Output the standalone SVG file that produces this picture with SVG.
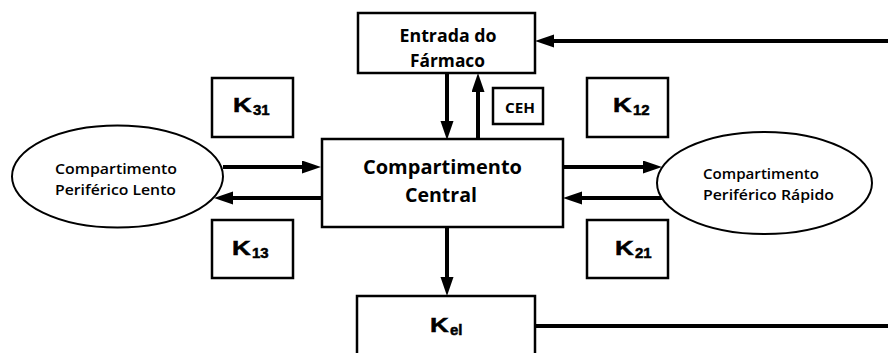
<svg xmlns="http://www.w3.org/2000/svg" width="888" height="353" viewBox="0 0 888 353">
<defs>
<style>
.box{fill:#fff;stroke:#000;stroke-width:2.5}
.ell{fill:#fff;stroke:#000;stroke-width:2}
.arr{stroke:#000;stroke-width:4;fill:none}
.t{font-family:"Open Sans","Noto Sans","Liberation Sans",sans-serif;fill:#000}
.b{font-weight:bold}
.s{font-weight:600;font-size:15px}
.k{font-family:"Liberation Sans",Arial,sans-serif;font-weight:bold;fill:#000;stroke:#000;stroke-width:0.5}
</style>
<marker id="ah" markerUnits="userSpaceOnUse" markerWidth="20" markerHeight="14" refX="8" refY="6.5" orient="auto">
<path d="M0,0 L19,6.5 L0,13 z" fill="#000"/>
</marker>
</defs>
<rect width="888" height="353" fill="#fff"/>
<g id="connectors">
<line class="arr" x1="888" y1="41" x2="546" y2="41" marker-end="url(#ah)"/>
<line class="arr" x1="447" y1="73" x2="447" y2="129" marker-end="url(#ah)"/>
<line class="arr" x1="478" y1="139" x2="478" y2="84" marker-end="url(#ah)"/>
<line class="arr" x1="223" y1="167" x2="310" y2="167" marker-end="url(#ah)"/>
<line class="arr" x1="322" y1="198" x2="225" y2="198" marker-end="url(#ah)"/>
<line class="arr" x1="563" y1="167" x2="651" y2="167" marker-end="url(#ah)"/>
<line class="arr" x1="664" y1="198" x2="574" y2="198" marker-end="url(#ah)"/>
<line class="arr" x1="447" y1="227" x2="447" y2="285" marker-end="url(#ah)"/>
<line class="arr" x1="535" y1="326" x2="888" y2="326"/>
</g>
<g id="entrada">
<rect class="box" x="358" y="13" width="177" height="60"/>
<text class="t b" x="448" y="42" font-size="17" text-anchor="middle" textLength="97" lengthAdjust="spacingAndGlyphs">Entrada do</text>
<text class="t b" x="447.5" y="67" font-size="17" text-anchor="middle" textLength="75" lengthAdjust="spacingAndGlyphs">Fármaco</text>
</g>
<g id="ceh">
<rect class="box" x="493" y="88" width="50" height="36"/>
<text class="t b" x="520" y="113" font-size="14" text-anchor="middle" textLength="30" lengthAdjust="spacingAndGlyphs">CEH</text>
</g>
<g id="central">
<rect class="box" x="322" y="139" width="241" height="88"/>
<text class="t b" x="442.5" y="174" font-size="19.5" text-anchor="middle" textLength="159" lengthAdjust="spacingAndGlyphs">Compartimento</text>
<text class="t b" x="441" y="202" font-size="19.5" text-anchor="middle" textLength="72" lengthAdjust="spacingAndGlyphs">Central</text>
</g>
<g id="lento">
<ellipse class="ell" cx="117.5" cy="176.5" rx="105.5" ry="51"/>
<text class="t s" x="55" y="174" textLength="122" lengthAdjust="spacingAndGlyphs">Compartimento</text>
<text class="t s" x="55" y="195" textLength="121" lengthAdjust="spacingAndGlyphs">Periférico Lento</text>
</g>
<g id="rapido">
<ellipse class="ell" cx="764.5" cy="183" rx="107.5" ry="51"/>
<text class="t s" x="703" y="179" textLength="116" lengthAdjust="spacingAndGlyphs">Compartimento</text>
<text class="t s" x="703" y="200" textLength="131" lengthAdjust="spacingAndGlyphs">Periférico Rápido</text>
</g>
<g id="k31">
<rect class="box" x="212" y="78" width="81" height="59"/>
<text class="k" font-size="20" transform="translate(233,112) scale(1.3,1)">K</text>
<text class="k" x="253" y="115" font-size="15" stroke-width="0.3">31</text>
</g>
<g id="k13">
<rect class="box" x="212" y="220" width="81" height="58"/>
<text class="k" font-size="20" transform="translate(232,255) scale(1.3,1)">K</text>
<text class="k" x="252" y="258" font-size="15" stroke-width="0.3">13</text>
</g>
<g id="k12">
<rect class="box" x="587" y="78" width="81" height="59"/>
<text class="k" font-size="20" transform="translate(613,112) scale(1.3,1)">K</text>
<text class="k" x="633" y="115" font-size="15" stroke-width="0.3">12</text>
</g>
<g id="k21">
<rect class="box" x="587" y="220" width="81" height="58"/>
<text class="k" font-size="20" transform="translate(615,255) scale(1.3,1)">K</text>
<text class="k" x="635" y="258" font-size="15" stroke-width="0.3">21</text>
</g>
<g id="kel">
<rect class="box" x="357" y="296" width="178" height="70"/>
<text class="k" font-size="20" transform="translate(430,332) scale(1.3,1)">K</text>
<text class="k" x="450" y="335" font-size="15" stroke-width="0.3">el</text>
</g>
</svg>
